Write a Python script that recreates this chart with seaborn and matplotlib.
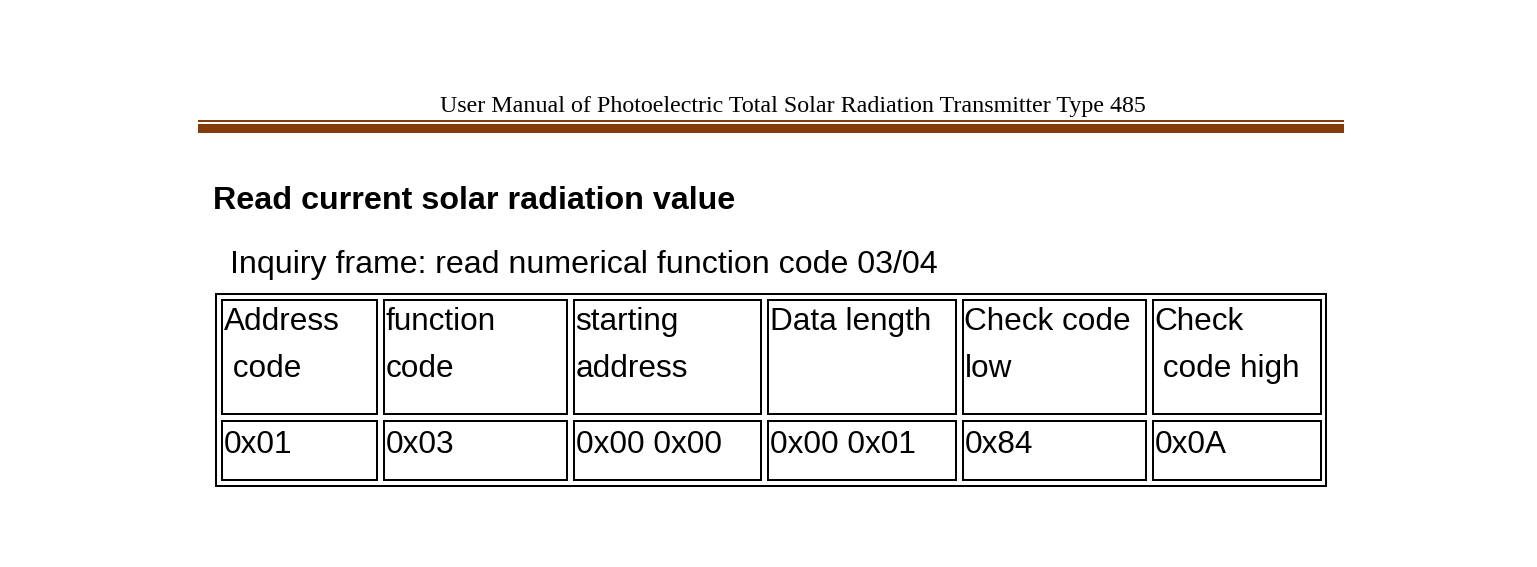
import matplotlib
matplotlib.use("Agg")
import matplotlib.pyplot as plt
from matplotlib.patches import Rectangle
import seaborn as sns

# page texts
header_text = "User Manual of Photoelectric Total Solar Radiation Transmitter Type 485"
section_title = "Read current solar radiation value"
frame_caption = "Inquiry frame: read numerical function code 03/04"

# table contents
col_headers = ["Address\n code", "function\ncode", "starting\naddress",
               "Data length", "Check code\nlow", "Check\n code high"]
col_values = ["0x01", "0x03", "0x00 0x00", "0x00 0x01", "0x84", "0x0A"]

# layout (pixels, page coordinates)
W, H = 1537, 567
col_edges = [(222, 377), (384, 567), (574, 761), (768, 956), (963, 1146), (1153, 1321)]
row_edges = [(300, 414), (421, 480)]
brown = "#843c0c"

def px(p):
    # pixel size -> points at dpi 100
    return p * 0.72

sns.set_theme(style="white")
plt.rcParams['font.family'] = ['Liberation Sans', 'DejaVu Sans']

fig = plt.figure(figsize=(W / 100, H / 100), dpi=100)
ax = fig.add_axes([0, 0, 1, 1])
ax.set_xlim(0, W)
ax.set_ylim(H, 0)
ax.axis("off")

# running header with brown double rule
ax.text(440, 112, header_text, family=['Liberation Serif'], fontsize=px(24),
        ha='left', va='baseline', color='black')
ax.hlines(121, 198, 1344, color=brown, lw=px(2))
ax.add_patch(Rectangle((198, 124), 1344 - 198, 9, color=brown, lw=0))

# headings
ax.text(213, 209, section_title, fontsize=px(32.3), fontweight='bold',
        ha='left', va='baseline', color='black')
ax.text(230.5, 273, frame_caption, fontsize=px(32.1),
        ha='left', va='baseline', color='black')

# table: outer frame + inner cells
lw = px(2)
ax.add_patch(Rectangle((216, 294), 1326 - 216, 486 - 294, fill=False, ec='black', lw=lw))
for (x0, x1), head, val in zip(col_edges, col_headers, col_values):
    for (y0, y1) in row_edges:
        ax.add_patch(Rectangle((x0, y0), x1 - x0, y1 - y0, fill=False, ec='black', lw=lw))
    lines = head.split("\n")
    for i, line in enumerate(lines):
        ax.text(x0 + 1.5, 330 + 47 * i, line, fontsize=px(31.5),
                ha='left', va='baseline', color='black')
    ax.text(x0 + 1.5, 453, val, fontsize=px(31.5), ha='left', va='baseline', color='black')

fig.savefig("out.png", dpi=100, facecolor='white')
